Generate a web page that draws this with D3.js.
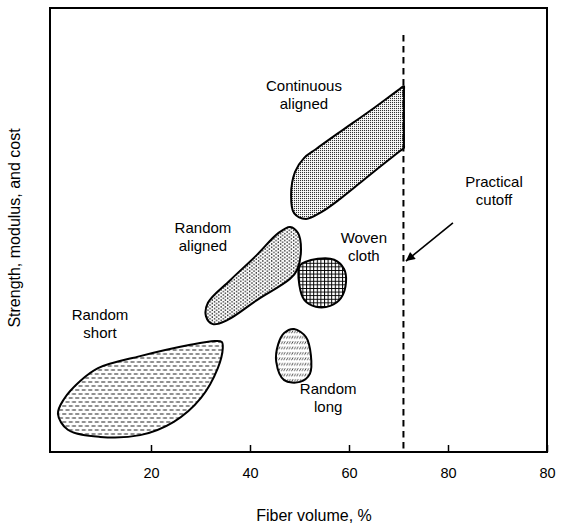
<!DOCTYPE html>
<html>
<head>
<meta charset="utf-8">
<script src="https://cdn.jsdelivr.net/npm/d3@7"></script>
<style>
  body { margin: 0; background: #fff; }
  text { font-family: "Liberation Sans", Arial, sans-serif; fill: #000; }
</style>
</head>
<body>
<div class="graph"></div>
<script>
/*---------- DATA ----------*/

// outlines: [fiber volume %, relative strength/modulus/cost]
const continuousAligned = [[53.3,68.2],[58.2,72.1],[64.2,76.8],[70.3,81.8],[71.1,82.4],[71.1,81.5],
    [71.1,69.1],[71.1,68.5],[70.3,67.8],[64.2,62.4],[58.2,57.0],[54.5,54.1],[51.3,52.5],
    [48.9,53.8],[48.3,57.9],[49.1,63.1],[50.9,66.2]];
const randomAligned = [[48.1,50.7],[49.7,49.3],[50.3,45.5],[49.5,41.0],[48.1,39.0],[41.4,34.2],
    [35.4,29.7],[32.5,28.8],[31.1,30.6],[31.5,33.6],[36.0,38.7],[41.4,44.4],[45.7,49.3]];
const wovenCloth = [[50.1,42.0],[53.7,43.5],[57.0,43.3],[59.0,41.2],[59.4,38.3],[58.4,34.7],
    [56.2,32.9],[53.3,32.7],[51.0,34.2],[50.0,37.4]];
const randomLong = [[48.9,27.7],[51.3,25.9],[52.3,21.8],[52.1,17.6],[50.1,15.8],[46.9,16.2],
    [45.3,20.3],[45.7,24.3],[46.9,26.8]];
const randomShort = [[27.7,24.1],[32.9,25.0],[34.3,24.8],[34.5,23.4],[33.5,18.9],[30.1,12.2],
    [24.6,6.8],[17.8,3.8],[9.7,3.4],[3.2,5.0],[1.2,8.6],[2.4,11.9],[5.7,16.0],[9.3,18.9],[17.8,21.6]];

const shapes = [
    {name: "continuous", pts: continuousAligned, fill: "url(#dotsFine)"},
    {name: "randomAligned", pts: randomAligned, fill: "url(#dotsSparse)"},
    {name: "woven", pts: wovenCloth, fill: "url(#grid)"},
    {name: "randomLong", pts: randomLong, fill: "url(#slashes)"},
    {name: "randomShort", pts: randomShort, fill: "url(#dashes)"}
];

// labels: [x, y of first line, lines]
const labels = [
    [50.9, 81.3, ["Continuous", "aligned"]],
    [30.5, 49.3, ["Random", "aligned"]],
    [63.0, 47.1, ["Woven", "cloth"]],
    [9.7, 29.7, ["Random", "short"]],
    [55.8, 13.1, ["Random", "long"]],
    [89.3, 59.7, ["Practical", "cutoff"]]
];

const cutoff = 71;
const cutoffTop = 93.9;
const arrowFrom = [81.0, 51.6];
const arrowTo = [71.5, 43.0];

const xTicks = [20, 40, 60, 80, 100];
const xTickLabels = ["20", "40", "60", "80", "80"];

/*---------- D3 STUFF ----------*/

const SIZE = {X: 573, Y: 526};

const svg = d3.select(".graph").append("svg")
    .attr("width", SIZE.X)
    .attr("height", SIZE.Y);

const x = d3.scaleLinear().domain([0, 100]).range([52, 547]);
const y = d3.scaleLinear().domain([0, 100]).range([452, 8]);

//patterns
const defs = svg.append("defs");

let p = defs.append("pattern").attr("id", "dotsFine")
    .attr("patternUnits", "userSpaceOnUse").attr("width", 2).attr("height", 2);
p.append("rect").attr("width", 2).attr("height", 2).attr("fill", "#fff");
p.append("rect").attr("width", 1.1).attr("height", 1.1).attr("fill", "#333");

p = defs.append("pattern").attr("id", "dotsSparse")
    .attr("patternUnits", "userSpaceOnUse").attr("width", 4.4).attr("height", 3.4);
p.append("rect").attr("width", 4.4).attr("height", 3.4).attr("fill", "#fff");
p.append("circle").attr("cx", 1.1).attr("cy", 0.85).attr("r", 0.75).attr("fill", "#222");
p.append("circle").attr("cx", 3.3).attr("cy", 2.55).attr("r", 0.75).attr("fill", "#222");

p = defs.append("pattern").attr("id", "grid")
    .attr("patternUnits", "userSpaceOnUse").attr("width", 3.6).attr("height", 3.6);
p.append("rect").attr("width", 3.6).attr("height", 3.6).attr("fill", "#fff");
p.append("path").attr("d", "M0.5,0V3.6M0,0.5H3.6")
    .attr("stroke", "#000").attr("stroke-width", 1);

p = defs.append("pattern").attr("id", "slashes")
    .attr("patternUnits", "userSpaceOnUse").attr("width", 2.6).attr("height", 5.4);
p.append("rect").attr("width", 2.6).attr("height", 5.4).attr("fill", "#fff");
p.append("path").attr("d", "M0.3,3.9L1.9,1.1")
    .attr("stroke", "#222").attr("stroke-width", 0.8);

p = defs.append("pattern").attr("id", "dashes")
    .attr("patternUnits", "userSpaceOnUse").attr("width", 6.5).attr("height", 8);
p.append("rect").attr("width", 6.5).attr("height", 8).attr("fill", "#fff");
p.append("path").attr("d", "M0.5,2H4.5M-2.75,6H1.25M3.75,6H7.75")
    .attr("stroke", "#222").attr("stroke-width", 1);

//shapes
const line = d3.line()
    .curve(d3.curveCatmullRomClosed.alpha(0.5))
    .x(d => x(d[0]))
    .y(d => y(d[1]));

svg.selectAll("path.shape")
    .data(shapes)
    .enter()
    .append("path")
        .attr("class", "shape")
        .attr("d", d => line(d.pts))
        .attr("fill", d => d.fill)
        .attr("stroke", "#000")
        .attr("stroke-width", 2)
        .attr("stroke-linejoin", "round");

//practical cutoff
svg.append("line")
    .attr("x1", x(cutoff)).attr("x2", x(cutoff))
    .attr("y1", y(cutoffTop)).attr("y2", y(0))
    .attr("stroke", "#000")
    .attr("stroke-width", 2)
    .attr("stroke-dasharray", "6.5,4.5");

defs.append("marker").attr("id", "head")
    .attr("viewBox", "0 0 10 10").attr("refX", 10).attr("refY", 5)
    .attr("markerUnits", "userSpaceOnUse")
    .attr("markerWidth", 12).attr("markerHeight", 9)
    .attr("orient", "auto")
    .append("path").attr("d", "M0,0L10,5L0,10Z").attr("fill", "#000");

svg.append("line")
    .attr("x1", x(arrowFrom[0])).attr("y1", y(arrowFrom[1]))
    .attr("x2", x(arrowTo[0])).attr("y2", y(arrowTo[1]))
    .attr("stroke", "#000")
    .attr("stroke-width", 1.6)
    .attr("marker-end", "url(#head)");

//labels
labels.forEach(l => {
    const t = svg.append("text")
        .attr("text-anchor", "middle")
        .attr("font-size", 15);
    l[2].forEach((s, i) => {
        t.append("tspan")
            .attr("x", x(l[0]))
            .attr("y", y(l[1]) + i * 18)
            .text(s);
    });
});

//frame
svg.append("rect")
    .attr("x", 50).attr("y", y(100))
    .attr("width", x(100) - 50).attr("height", y(0) - y(100))
    .attr("fill", "none")
    .attr("stroke", "#000")
    .attr("stroke-width", 2);

//x axis
const xAxis = svg.append("g")
    .attr("transform", `translate(0, ${y(0)})`)
    .call(d3.axisBottom(x)
        .tickValues(xTicks)
        .tickSize(-7)
        .tickPadding(16)
        .tickFormat((d, i) => xTickLabels[i]));
xAxis.select(".domain").remove();
xAxis.selectAll("line").attr("stroke", "#000").attr("stroke-width", 1.5);
xAxis.selectAll("text")
    .attr("font-size", 14.5)
    .attr("font-family", "Liberation Sans, Arial, sans-serif")
    .attr("fill", "#000");

//axis titles
svg.append("text")
    .attr("x", 314).attr("y", 521)
    .attr("text-anchor", "middle")
    .attr("font-size", 16)
    .text("Fiber volume, %");

svg.append("text")
    .attr("transform", "translate(20, 228) rotate(-90)")
    .attr("text-anchor", "middle")
    .attr("font-size", 16)
    .text("Strength, modulus, and cost");
</script>
</body>
</html>
